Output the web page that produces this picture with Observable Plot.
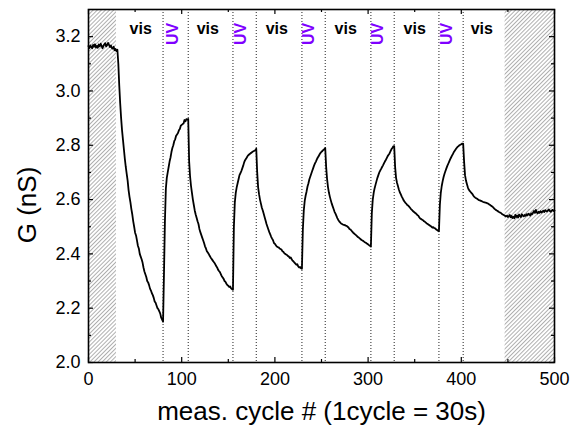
<!DOCTYPE html>
<html><head><meta charset="utf-8">
<script src="https://cdn.jsdelivr.net/npm/d3@7"></script>
<script src="https://cdn.jsdelivr.net/npm/@observablehq/plot@0.6"></script>
<style>html,body{margin:0;padding:0;background:#fff}</style>
</head><body><div id="chart"></div>
<script>
// Conductance G (nS) per measurement cycle 0..500
const G = [
 3.165,3.158,3.168,3.162,3.157,3.170,3.163,3.172,3.160,3.166,3.159,3.171,3.164,3.174,3.167,3.158,3.165,3.172,3.176,3.164,3.169,3.177,3.170,3.162,3.168,3.158,3.156,3.163,3.150,3.155,3.147,3.152,
 3.10,3.02,2.955,2.90,2.855,2.82,2.785,2.75,2.72,2.695,2.67,2.635,2.61,2.59,2.565,2.545,2.52,2.50,2.478,2.468,2.45,2.43,2.42,2.40,2.39,2.38,2.368,2.35,2.335,2.325,2.315,2.30,2.295,2.285,2.272,2.265,2.255,2.248,2.238,2.225,2.22,2.21,2.20,2.196,2.188,2.18,2.165,2.158,2.15,
 2.33,2.52,2.64,2.68,2.70,2.72,2.74,2.755,2.775,2.79,2.80,2.815,2.822,2.835,2.84,2.845,2.855,2.86,2.872,2.875,2.878,2.88,2.893,2.888,2.896,2.895,2.897,
 2.74,2.685,2.65,2.625,2.60,2.58,2.56,2.545,2.533,2.52,2.51,2.492,2.48,2.47,2.46,2.45,2.44,2.428,2.42,2.41,2.405,2.40,2.393,2.387,2.382,2.377,2.372,2.368,2.362,2.355,2.35,2.342,2.337,2.333,2.325,2.318,2.313,2.308,2.30,2.297,2.29,2.285,2.283,2.278,2.28,2.273,2.27,2.268,
 2.50,2.59,2.625,2.645,2.66,2.675,2.69,2.697,2.705,2.715,2.725,2.737,2.745,2.75,2.756,2.762,2.765,2.768,2.771,2.773,2.776,2.778,2.78,2.782,2.787,
 2.70,2.645,2.62,2.60,2.585,2.57,2.56,2.548,2.535,2.523,2.51,2.50,2.49,2.48,2.472,2.463,2.456,2.45,2.44,2.437,2.432,2.427,2.425,2.424,2.42,2.418,2.416,2.41,2.408,2.403,2.40,2.398,2.396,2.392,2.39,2.385,2.387,2.38,2.375,2.372,2.368,2.364,2.36,2.362,2.354,2.35,2.352,2.347,2.345,
 2.49,2.56,2.595,2.615,2.63,2.648,2.66,2.675,2.685,2.695,2.705,2.715,2.725,2.733,2.74,2.748,2.755,2.76,2.767,2.772,2.776,2.779,2.783,2.786,2.79,
 2.72,2.675,2.645,2.625,2.61,2.597,2.585,2.575,2.565,2.555,2.548,2.54,2.532,2.525,2.52,2.516,2.512,2.51,2.508,2.507,2.506,2.504,2.503,2.50,2.497,2.492,2.49,2.486,2.482,2.478,2.475,2.472,2.469,2.466,2.462,2.46,2.457,2.454,2.451,2.449,2.447,2.444,2.442,2.44,2.437,2.435,2.432,2.43,2.427,
 2.55,2.60,2.625,2.642,2.655,2.668,2.68,2.69,2.70,2.707,2.713,2.72,2.726,2.733,2.74,2.746,2.753,2.76,2.765,2.77,2.778,2.785,2.79,2.796,2.797,
 2.72,2.68,2.662,2.65,2.637,2.627,2.62,2.612,2.605,2.598,2.593,2.588,2.585,2.58,2.578,2.574,2.57,2.565,2.562,2.558,2.555,2.552,2.55,2.546,2.543,2.54,2.534,2.53,2.528,2.526,2.524,2.52,2.518,2.515,2.512,2.51,2.507,2.505,2.503,2.50,2.497,2.498,2.495,2.494,2.49,2.488,2.485,2.483,
 2.58,2.625,2.65,2.668,2.683,2.695,2.705,2.715,2.724,2.732,2.74,2.748,2.755,2.762,2.768,2.775,2.78,2.785,2.79,2.794,2.797,2.80,2.802,2.804,2.806,2.806,
 2.74,2.69,2.67,2.657,2.645,2.637,2.632,2.628,2.624,2.62,2.614,2.61,2.607,2.605,2.603,2.60,2.598,2.597,2.595,2.594,2.592,2.591,2.59,2.589,2.588,2.586,2.585,2.582,2.58,2.577,2.575,2.572,2.568,2.565,2.562,2.56,2.558,2.555,2.553,2.552,2.549,2.546,2.544,2.542,2.54,2.538,2.541,
 2.536,2.539,2.543,2.535,2.540,2.532,2.537,2.531,2.544,2.536,2.541,2.534,2.545,2.539,2.536,2.546,2.541,2.538,2.543,2.540,2.546,2.542,2.548,2.545,2.541,2.549,2.546,2.552,2.558,2.551,2.562,2.553,2.549,2.555,2.551,2.557,2.552,2.555,2.559,2.554,2.561,2.558,2.556,2.560,2.564,2.558,2.555,2.560,2.562,2.558,2.560
];
const cycles = G.map((_, i) => i);

const hatchFrom = [0, 447];
const hatchTo = [30, 500];
const switchCycles = [80, 107, 155, 180, 229, 254, 303, 328, 376, 402];
const visCycles = [56, 128, 202, 276, 350, 422];
const uvCycles = [90, 163, 236, 310, 384];
const xTicks = [0, 100, 200, 300, 400, 500];
const xMinorTicks = [50, 150, 250, 350, 450];
const yTicks = [2.0, 2.2, 2.4, 2.6, 2.8, 3.0, 3.2];
const yMinorTicks = [2.1, 2.3, 2.5, 2.7, 2.9, 3.1];
const xTitle = "meas. cycle # (1cycle = 30s)";
const yTitle = "G (nS)";

const W = 574, H = 425, mL = 88, mR = 20, mT = 9, mB = 63;
const PH = H - mT - mB, PW = W - mL - mR;
const MAJ = 5, MIN = 3;

const series = cycles.map((c, i) => ({c, g: G[i]}));
const hatches = hatchFrom.map((a, i) => ({a, b: hatchTo[i]}));

const plot = Plot.plot({
  width: W, height: H,
  marginLeft: mL, marginRight: mR, marginTop: mT, marginBottom: mB,
  style: {fontFamily: "'Liberation Sans', Arial, sans-serif", background: "white", color: "black"},
  x: {domain: [0, 500]},
  y: {domain: [2.0, 3.3]},
  marks: [
    Plot.rect(hatches, {x1: "a", x2: "b", fill: "url(#hatch)"}),
    Plot.ruleX(switchCycles, {x: d => d, stroke: "#222", strokeWidth: 1, strokeDasharray: "1,2"}),
    Plot.line(series, {x: "c", y: "g", stroke: "black", strokeWidth: 1.8}),
    Plot.text(visCycles, {x: d => d, text: () => "vis", frameAnchor: "top", lineAnchor: "middle", textAnchor: "middle", dy: 19, fontSize: 16, fontWeight: "bold", fill: "black"}),
    Plot.text(uvCycles, {x: d => d, text: () => "UV", frameAnchor: "top", lineAnchor: "middle", textAnchor: "middle", dy: 24.5, rotate: -90, fontSize: 16, fontWeight: "bold", fill: "#7f00ff"}),
    // inward ticks, bottom & top
    Plot.tickX(xTicks, {x: d => d, insetTop: PH - MAJ, stroke: "black", strokeWidth: 1.2}),
    Plot.tickX(xTicks, {x: d => d, insetBottom: PH - MAJ, stroke: "black", strokeWidth: 1.2}),
    Plot.tickX(xMinorTicks, {x: d => d, insetTop: PH - MIN, stroke: "black", strokeWidth: 1.2}),
    Plot.tickX(xMinorTicks, {x: d => d, insetBottom: PH - MIN, stroke: "black", strokeWidth: 1.2}),
    // inward ticks, left & right
    Plot.tickY(yTicks, {y: d => d, insetRight: PW - MAJ, stroke: "black", strokeWidth: 1.2}),
    Plot.tickY(yTicks, {y: d => d, insetLeft: PW - MAJ, stroke: "black", strokeWidth: 1.2}),
    Plot.tickY(yMinorTicks, {y: d => d, insetRight: PW - MIN, stroke: "black", strokeWidth: 1.2}),
    Plot.tickY(yMinorTicks, {y: d => d, insetLeft: PW - MIN, stroke: "black", strokeWidth: 1.2}),
    Plot.frame({stroke: "black", strokeWidth: 1.6}),
    Plot.axisX(xTicks, {tickSize: 0, tickPadding: 10, fontSize: 18, label: null}),
    Plot.axisY(yTicks, {tickSize: 0, tickPadding: 8, fontSize: 18, label: null, tickFormat: d => d.toFixed(1)}),
    Plot.text([xTitle], {text: d => d, frameAnchor: "bottom", lineAnchor: "middle", textAnchor: "middle", dy: 49, fontSize: 26, fill: "black"}),
    Plot.text([yTitle], {text: d => d, frameAnchor: "left", lineAnchor: "middle", textAnchor: "middle", dx: -61, dy: 19, rotate: -90, fontSize: 26, fill: "black"})
  ]
});

const svg = d3.select(plot);
const defs = svg.insert("defs", ":first-child");
const pat = defs.append("pattern")
  .attr("id", "hatch")
  .attr("patternUnits", "userSpaceOnUse")
  .attr("width", 2.9).attr("height", 10)
  .attr("patternTransform", "rotate(45)");
pat.append("rect").attr("width", 2.9).attr("height", 10).attr("fill", "white");
pat.append("line").attr("x1", 0.5).attr("y1", 0).attr("x2", 0.5).attr("y2", 10)
  .attr("stroke", "#8a8a8a").attr("stroke-width", 0.7);

document.getElementById("chart").appendChild(plot);
</script>
</body></html>
